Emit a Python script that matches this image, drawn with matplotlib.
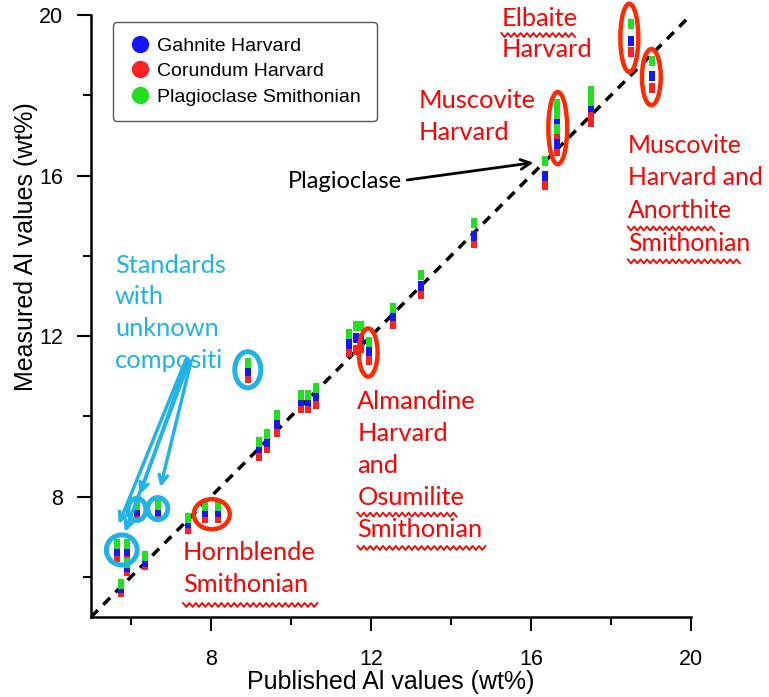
import numpy as np
import matplotlib
matplotlib.use('Agg')
import matplotlib.pyplot as plt
from matplotlib.lines import Line2D
from matplotlib.patches import Ellipse

# published Al (wt%) of each standard and the measured Al with each calibration
published = [5.74, 5.64, 5.90, 5.90, 6.14, 6.36, 6.67, 7.43, 7.85, 8.17, 8.92,
             9.19, 9.40, 9.66, 10.26, 10.42, 10.63, 11.45, 11.63, 11.75, 11.94,
             12.55, 13.25, 14.58, 16.36, 16.66, 16.66, 16.66, 17.49, 17.49,
             18.49, 19.03]
gahnite = [5.72, 6.65, 6.65, 6.25, 7.65, 6.37, 7.65, 7.35, 7.62, 7.62, 11.12,
           9.22, 9.37, 9.80, 10.37, 10.37, 10.50, 11.79, 11.96, 11.93, 11.62,
           12.50, 13.24, 14.49, 15.99, 17.66, 17.36, 16.78, 17.70, 17.70,
           19.36, 18.47]
corundum = [5.62, 6.50, 6.50, 6.15, 7.57, 6.30, 7.57, 7.20, 7.47, 7.47, 10.95,
            9.00, 9.22, 9.60, 10.21, 10.21, 10.30, 11.60, 11.66, 11.70, 11.41,
            12.29, 13.04, 14.31, 15.76, 16.90, 16.60, 16.60, 17.33, 17.50,
            19.07, 18.19]
plagioclase = [5.82, 6.82, 6.82, 6.35, 7.80, 6.52, 7.80, 7.47, 7.77, 7.77, 11.32,
               9.37, 9.57, 10.04, 10.54, 10.54, 10.70, 12.04, 12.24, 12.26, 11.84,
               12.71, 13.53, 14.82, 16.36, 17.78, 17.53, 17.15, 18.10, 17.85,
               19.77, 18.86]

series_names = ['Gahnite Harvard', 'Corundum Harvard', 'Plagioclase Smithonian']
series_colors = ['#1515ff', '#ff2020', '#20e020']

xticks = [8, 12, 16, 20]
minor_ticks = [6, 10, 14, 18]

RED = '#ff0000'
RING = '#ff2a00'
CYAN = '#22b2e6'
LABEL_FONT = ['Liberation Sans', 'DejaVu Sans']
NOTE_FONT = ['Lato', 'DejaVu Sans']

fig = plt.figure(figsize=(7.69, 6.97), dpi=100)
ax = fig.add_axes([0.1183, 0.1148, 0.7802, 0.8637])

# 1:1 line
ax.plot([5, 20], [5, 20], color='black', lw=2.5, dashes=(2.8, 2.2), zorder=1)

# small vertical bar markers
bar = [(-0.27, -0.5), (0.27, -0.5), (0.27, 0.5), (-0.27, 0.5), (-0.27, -0.5)]
for vals, c in [(corundum, series_colors[1]), (gahnite, series_colors[0]),
                (plagioclase, series_colors[2])]:
    ax.plot(published, vals, ls='none', marker=bar, markersize=7.5,
            color=c, markeredgewidth=0, zorder=4)

ax.set_xlim(5, 20)
ax.set_ylim(5, 20)
ax.spines['top'].set_visible(False)
ax.spines['right'].set_visible(False)
for s in ['left', 'bottom']:
    ax.spines[s].set_linewidth(1.8)
ax.set_xticks(xticks)
ax.set_yticks(xticks)
ax.set_xticks(minor_ticks, minor=True)
ax.set_yticks(minor_ticks, minor=True)
ax.tick_params(which='major', direction='out', length=10, width=1.5,
               labelsize=15.5)
ax.tick_params(axis='x', which='major', pad=13)
ax.tick_params(axis='y', which='major', pad=10)
ax.tick_params(which='minor', direction='out', length=6, width=1.5)
for lab in ax.get_xticklabels() + ax.get_yticklabels():
    lab.set_family(LABEL_FONT)

ax.set_xlabel('Published Al values (wt%)', fontsize=18, family=LABEL_FONT,
              labelpad=0)
ax.set_ylabel('Measured Al values (wt%)', fontsize=18, family=LABEL_FONT)
ax.yaxis.set_label_coords(-0.088, 0.615)

handles = [Line2D([], [], ls='none', marker='o', markersize=12.5, color=c,
                  markeredgewidth=0) for c in series_colors]
leg = ax.legend(handles, series_names, loc='upper left',
                bbox_to_anchor=(0.02, 1.005), fancybox=True, framealpha=1,
                edgecolor='#555555', prop={'family': LABEL_FONT, 'size': 14},
                handletextpad=0.3, handlelength=1.2, labelspacing=0.4,
                borderpad=0.8)
leg.get_frame().set_linewidth(1.0)


def ring(x, y, w, h, color, lw=3.2):
    ax.add_patch(Ellipse((x, y), w, h, fill=False, edgecolor=color, lw=lw,
                         zorder=5, clip_on=False))


def squiggle(x0, x1, y):
    xs = np.arange(x0, x1, 0.08)
    ys = y + 0.05 * (-1) ** np.arange(len(xs))
    ax.plot(xs, ys, color=RED, lw=1.3, clip_on=False, zorder=5)


def note(x, ys, lines, color, size=18.3):
    for y, s in zip(ys, lines):
        ax.text(x, y, s, color=color, family=NOTE_FONT, fontsize=size,
                va='center', ha='left', clip_on=False, zorder=6)


# red rings around the outliers
ring(18.46, 19.43, 0.45, 1.70, RING)
ring(19.01, 18.45, 0.47, 1.40, RING)
ring(16.67, 17.18, 0.47, 1.80, RING)
ring(11.93, 11.59, 0.47, 1.20, RING)
ring(8.02, 7.56, 0.90, 0.75, RING)

# cyan rings on the unknown standards
ring(8.92, 11.16, 0.65, 0.90, CYAN, lw=3.6)
ring(6.15, 7.68, 0.45, 0.55, CYAN, lw=3.6)
ring(6.67, 7.70, 0.50, 0.55, CYAN, lw=3.6)
ring(5.77, 6.67, 0.77, 0.75, CYAN, lw=3.6)

note(15.26, [19.92, 19.13], ['Elbaite', 'Harvard'], RED)
note(13.19, [17.88, 17.08], ['Muscovite', 'Harvard'], RED)
note(18.42, [16.75, 15.96, 15.13, 14.31],
     ['Muscovite', 'Harvard and', 'Anorthite', 'Smithonian'], RED, size=17.8)
note(11.66, [10.37, 9.57, 8.77, 7.97, 7.17],
     ['Almandine', 'Harvard', 'and', 'Osumilite', 'Smithonian'], RED)
note(7.30, [6.60, 5.80], ['Hornblende', 'Smithonian'], RED)
note(5.60, [13.76, 12.99, 12.19, 11.39],
     ['Standards', 'with', 'unknown', 'compositi'], CYAN)
note(9.92, [15.86], ['Plagioclase'], 'black', size=17)

squiggle(15.26, 17.13, 19.50)
squiggle(18.42, 20.60, 14.68)
squiggle(18.42, 21.25, 13.86)
squiggle(11.66, 14.21, 7.55)
squiggle(11.66, 14.91, 6.72)
squiggle(7.30, 10.67, 5.30)

ax.annotate('', xy=(16.13, 16.33), xytext=(12.84, 15.88),
            arrowprops=dict(arrowstyle='->,head_length=0.7,head_width=0.35',
                            color='black', lw=2), zorder=6)

# cyan arrows from the label to the unknown standards
for start, end in [((7.45, 11.50), (6.20, 7.99)),
                   ((7.52, 11.45), (6.72, 8.17)),
                   ((7.40, 11.48), (5.67, 7.25)),
                   ((7.48, 11.42), (5.82, 7.05))]:
    ax.annotate('', xy=end, xytext=start,
                arrowprops=dict(arrowstyle='->,head_length=0.6,head_width=0.3',
                                color=CYAN, lw=2.5), zorder=6)

fig.savefig('out.png', dpi=100)
